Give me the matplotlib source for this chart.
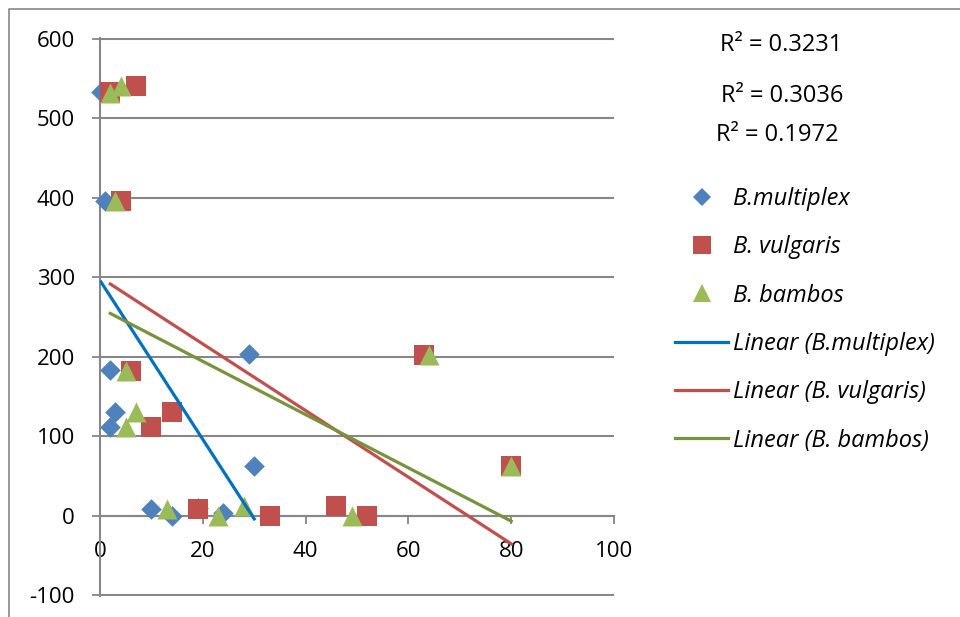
import matplotlib
matplotlib.use("Agg")
import matplotlib.pyplot as plt
from matplotlib.lines import Line2D
import numpy as np

plt.rcParams['font.family'] = ['Open Sans', 'DejaVu Sans']
plt.rcParams['axes.unicode_minus'] = False

# series
series_names = ['B.multiplex', 'B. vulgaris', 'B. bambos']
mult_x = [0.2, 0.9, 2, 2.9, 2, 29, 30, 10, 14, 19, 24]
mult_y = [533, 396, 183, 131, 112, 203, 63, 9, 0, 10, 3]
vulg_x = [2, 7, 4, 6, 10, 14, 19, 33, 46, 52, 63, 80]
vulg_y = [533, 540, 396, 182, 111, 131, 8, 0, 12, 0, 202, 63]
bamb_x = [2, 4, 3, 5, 7, 5, 13, 23, 28, 49, 64, 80]
bamb_y = [532, 540, 396, 182, 131, 111, 8, 0, 12, 0, 202, 63]

# linear trendlines as shown (slope, intercept)
trend_slope = [-10.0, -4.19, -3.35]
trend_icpt = [296.0, 299.9, 261.2]
r2_labels = ['R² = 0.3231', 'R² = 0.3036', 'R² = 0.1972']

xticks = [0, 20, 40, 60, 80, 100]
yticks = [-100, 0, 100, 200, 300, 400, 500, 600]

mark_colors = ['#4F81BD', '#C0504D', '#9BBB59']
line_colors = ['#0070C0', '#C0504D', '#77933C']
markers = ['D', 's', '^']
sizes = [110, 207, 207]
grey = '#878787'

W, H = 960, 617
fig = plt.figure(figsize=(W / 100, H / 100), dpi=100)
ax = fig.add_axes([100 / W, 21 / H, 514 / W, 558 / H])
ax.set_xlim(0, 100)
ax.set_ylim(-101, 601)

data = [(mult_x, mult_y), (vulg_x, vulg_y), (bamb_x, bamb_y)]
for i, (xs, ys) in enumerate(data):
    ax.scatter(xs, ys, marker=markers[i], s=sizes[i], color=mark_colors[i],
               linewidths=0, zorder=3, clip_on=False)
for i, (xs, ys) in enumerate(data):
    tx = np.array([min(xs), max(xs)])
    ax.plot(tx, trend_icpt[i] + trend_slope[i] * tx, color=line_colors[i],
            lw=2.3, zorder=4)

ax.set_xticks(xticks)
ax.set_yticks(yticks)
ax.tick_params(labelsize=16, colors=grey, labelcolor='black', width=1.3, length=6)
ax.tick_params(axis='x', pad=12)
ax.tick_params(axis='y', pad=12)
ax.yaxis.grid(True, color=grey, lw=1.5)
ax.set_axisbelow(True)
ax.spines['top'].set_visible(False)
ax.spines['right'].set_visible(False)
ax.spines['bottom'].set_position(('data', 0))
for s in ['bottom', 'left']:
    ax.spines[s].set_color(grey)
    ax.spines[s].set_linewidth(1.5)

# R² labels
r2_pos = [(781, 45), (782, 96), (777, 135)]
for (px, py), txt in zip(r2_pos, r2_labels):
    fig.text(px / W, 1 - py / H, txt, ha='center', va='center', fontsize=17)

# legend
handles = []
msz = [9.2, 13, 13]
for i in range(3):
    handles.append(Line2D([], [], ls='none', marker=markers[i], markersize=msz[i],
                          color=mark_colors[i], markeredgewidth=0))
for i in range(3):
    handles.append(Line2D([], [], color=line_colors[i], lw=2.3))
labels = series_names + ['Linear (%s)' % n for n in series_names]
fig.legend(handles, labels, loc='upper left', bbox_to_anchor=(675 / W, 1 - 187 / H),
           frameon=False, borderpad=0, borderaxespad=0, handlelength=2.25,
           handletextpad=0.21, labelspacing=1.03,
           prop={'size': 17, 'style': 'italic'})

# chart area border
fig.add_artist(Line2D([9 / W, 9 / W, 1], [0, 1 - 9 / H, 1 - 9 / H],
                      transform=fig.transFigure, color=grey, lw=1.2))

fig.savefig('out.png', dpi=100)
